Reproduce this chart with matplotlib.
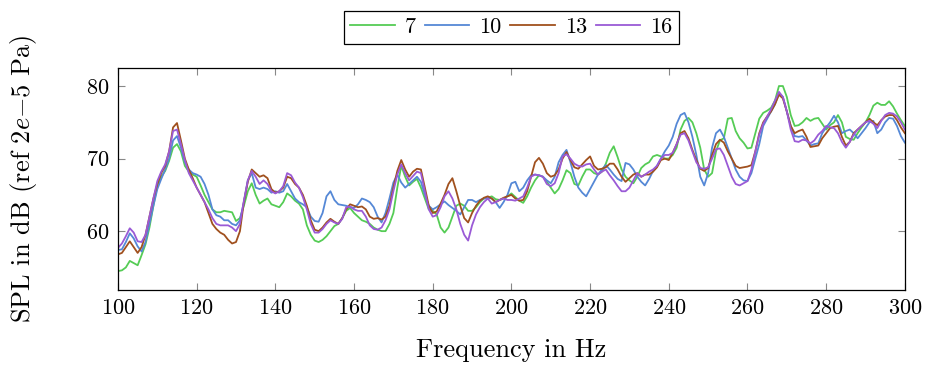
import numpy as np
import matplotlib
matplotlib.use('Agg')
import matplotlib.pyplot as plt

plt.rcParams['font.family'] = 'serif'
plt.rcParams['font.serif'] = ['cmr10', 'DejaVu Serif']
plt.rcParams['mathtext.fontset'] = 'cm'
plt.rcParams['axes.formatter.use_mathtext'] = True

freq = np.arange(100, 301)  # Hz, 1 Hz steps

spl_7 = [54.5, 54.6, 55.0, 55.9, 55.6, 55.3, 56.7, 58.2, 60.5, 63.5,
         66.3, 67.5, 68.3, 69.7, 71.5, 72.0, 71.0, 69.0, 68.2, 67.8,
         67.5, 66.3, 65.0, 64.0, 63.0, 62.6, 62.6, 62.8, 62.7, 62.6,
         61.4, 61.8, 63.5, 65.5, 66.6, 65.0, 63.8, 64.2, 64.5, 63.7,
         63.5, 63.3, 64.0, 65.2, 64.8, 64.2, 63.8, 63.0, 60.8, 59.5,
         58.7, 58.5, 58.8, 59.3, 60.0, 60.7, 61.0, 61.8, 62.8, 63.2,
         62.5, 62.0, 61.5, 61.3, 61.0, 60.5, 60.2, 60.0, 60.0, 61.0,
         62.5, 66.0, 69.0, 67.5, 66.3, 66.8, 67.2, 66.0, 64.5, 63.0,
         62.8, 62.3, 60.5, 59.8, 60.5, 62.0, 63.5, 63.8, 63.5, 62.8,
         62.8, 63.3, 64.0, 64.5, 64.6, 64.8, 64.4, 64.3, 64.5, 64.8,
         65.2, 64.7, 64.2, 63.9, 64.8, 66.0, 67.0, 67.7, 67.5, 66.8,
         66.0, 65.2, 65.8, 67.0, 68.4, 68.0, 66.5, 66.3, 67.5, 68.5,
         68.5, 68.0, 67.8, 68.2, 69.3, 70.8, 71.7, 70.2, 68.5, 67.5,
         67.0, 66.6, 67.5, 68.7, 69.2, 69.5, 70.3, 70.5, 70.3, 70.0,
         70.0, 70.5, 71.5, 74.0, 75.2, 75.6, 75.0, 73.5, 71.5, 68.5,
         67.5, 68.0, 71.0, 72.5, 72.8, 75.5, 75.6, 73.8, 72.8, 72.2,
         71.4, 71.5, 73.5, 75.5, 76.3, 76.6, 77.0, 78.0, 80.0, 80.0,
         78.5, 76.0, 74.5, 74.6, 75.0, 75.6, 75.2, 75.5, 75.6, 74.8,
         74.0, 74.6, 75.0, 76.0, 75.0, 73.0, 72.7, 72.6, 73.5, 74.3,
         75.0, 76.0, 77.3, 77.7, 77.4, 77.4, 77.9, 77.2, 76.2, 75.3,
         74.5]

spl_10 = [57.4, 57.5, 58.5, 59.7, 59.0, 57.9, 57.2, 58.5, 61.0, 63.5,
          65.8, 67.2, 68.5, 70.0, 72.5, 73.1, 71.5, 69.5, 68.5, 68.0,
          67.8, 67.5, 66.5, 65.0, 63.0, 62.2, 62.0, 61.5, 61.5, 61.0,
          60.8, 61.5, 64.0, 67.0, 68.0, 66.0, 65.8, 66.0, 65.8, 65.3,
          65.5, 65.3, 65.5, 66.5, 65.5, 64.5, 64.0, 63.7, 63.3, 62.0,
          61.4, 61.3, 62.5, 64.8, 65.5, 64.3, 63.7, 63.6, 63.5, 63.3,
          63.2, 63.7, 64.5, 64.3, 64.0, 63.3, 62.0, 61.2, 62.5, 64.5,
          66.7, 67.8, 66.7, 66.0, 66.5, 67.0, 67.5, 66.8, 65.0, 63.5,
          63.0, 63.3, 63.7, 64.1, 63.6, 63.2, 62.8, 62.3, 63.3, 64.3,
          64.3, 64.0, 64.3, 64.5, 64.6, 64.5, 64.0, 63.2, 64.0, 65.0,
          66.6, 66.8, 65.5, 66.0, 67.0, 67.7, 67.8, 67.7, 67.5, 67.0,
          66.6, 67.5, 69.5, 70.5, 71.2, 69.5, 67.5, 66.0, 65.3, 64.8,
          65.8, 66.8, 67.8, 68.5, 69.1, 68.5, 67.8, 67.2, 66.9, 69.4,
          69.2, 68.5, 67.5, 66.8, 66.3, 67.2, 68.3, 69.0, 70.0, 71.0,
          71.8, 73.0, 74.8, 76.0, 76.3, 75.0, 73.0, 70.5, 67.5, 66.3,
          68.0, 71.5, 73.5, 74.0, 73.0, 71.5, 70.0, 68.5, 67.5, 67.0,
          66.9, 68.0, 70.0, 72.0, 74.5, 75.5, 76.5, 77.5, 79.0, 78.5,
          76.5, 74.5, 73.1, 73.0, 73.1, 72.5, 71.8, 72.0, 72.1, 73.5,
          74.3, 75.0, 75.9, 75.0, 73.5, 73.8, 74.0, 73.5, 72.8, 73.5,
          74.2, 75.0, 75.2, 73.5, 74.0, 75.0, 75.6, 75.5, 74.5, 73.1,
          72.2]

spl_13 = [56.8, 57.0, 57.8, 58.6, 57.8, 57.0, 57.8, 59.5, 62.0, 64.5,
          66.5, 68.0, 69.0, 71.0, 74.3, 74.9, 72.5, 70.0, 68.5, 67.3,
          66.0, 65.0, 64.0, 62.5, 61.0, 60.3, 59.8, 59.5, 58.8, 58.3,
          58.5, 60.0, 64.0, 66.8, 68.5, 68.0, 67.5, 67.7, 67.3, 65.8,
          65.3, 65.5, 66.0, 67.5, 67.3, 66.5, 66.0, 65.0, 63.5, 61.5,
          60.2, 60.0, 60.5, 61.2, 61.7, 61.3, 61.0, 61.8, 63.0, 63.7,
          63.5, 63.3, 63.4, 63.0, 62.0, 61.7, 61.8, 61.6, 62.0, 63.5,
          66.0, 68.3, 69.8, 68.5, 67.5, 68.2, 68.6, 68.5, 66.0, 63.5,
          62.5, 62.7, 63.8, 65.0, 66.5, 67.3, 65.5, 63.5, 61.8, 61.2,
          62.5, 63.5, 64.2, 64.6, 64.8, 64.5, 64.0, 64.3, 64.6, 64.8,
          65.0, 64.5, 64.2, 64.3, 65.5, 67.5, 69.5, 70.1, 69.3, 68.0,
          67.5, 67.7, 68.5, 70.0, 70.9, 69.8, 68.8, 68.6, 69.2, 69.8,
          70.3, 69.0, 68.5, 68.6, 68.8, 69.3, 69.3, 68.5, 67.5, 66.8,
          67.3, 67.8, 68.0, 67.5, 67.8, 67.8, 68.2, 68.8, 69.8, 70.0,
          69.8, 70.8, 72.0, 73.5, 73.8, 72.8, 71.2, 69.8, 68.6, 68.3,
          68.7, 70.5, 72.0, 72.6, 72.2, 71.0, 70.0, 69.0, 68.7, 68.8,
          68.9, 69.1, 71.0, 73.5, 75.0, 75.8, 76.5, 77.5, 78.8, 78.3,
          76.5, 74.5, 73.5, 73.8, 74.0, 73.0, 71.6, 71.7, 71.8, 72.8,
          73.5, 74.2, 74.4, 74.5, 73.0, 71.8, 72.3, 73.5, 74.0, 74.5,
          75.0, 75.5, 75.0, 74.6, 75.3, 75.8, 76.0, 76.0, 75.3, 74.3,
          73.5]

spl_16 = [57.7, 58.3, 59.3, 60.4, 59.8, 58.6, 58.5, 59.5, 62.0, 64.5,
          66.9, 68.2, 69.2, 71.0, 73.8, 74.0, 72.0, 69.8, 68.0, 67.0,
          66.0, 65.0, 64.0, 63.0, 61.8, 61.0, 60.8, 60.8, 60.8, 60.5,
          60.0, 61.0, 64.2, 67.0, 68.3, 67.5, 66.5, 67.0, 66.5, 65.5,
          65.2, 65.5, 66.2, 68.0, 67.7, 66.7, 66.0, 64.7, 63.0, 61.0,
          59.8, 59.8, 60.3, 61.0, 61.5, 61.2, 61.0, 61.7, 63.3, 63.4,
          63.0, 62.8, 62.8, 62.0, 60.8, 60.3, 60.2, 60.5, 61.5, 63.0,
          65.5, 67.8, 69.2, 68.0, 67.0, 67.6, 68.2, 68.0, 65.5, 63.0,
          62.0, 62.2, 63.3, 64.8, 65.5, 64.5, 63.0, 61.0, 59.5, 58.7,
          60.8, 62.3, 63.3, 64.0, 64.5, 63.8, 64.0, 64.3, 64.5, 64.3,
          64.3, 64.2, 64.5, 64.8, 66.0, 67.5, 67.8, 67.7, 67.5, 66.5,
          66.2, 66.6, 68.0, 70.3, 70.6, 70.0, 69.3, 69.0, 68.9, 69.2,
          69.3, 68.5, 67.8, 68.2, 68.5, 67.7, 67.0, 66.2, 65.5, 65.5,
          66.0, 67.0, 68.0, 67.5, 67.8, 68.2, 68.5, 69.0, 70.0, 70.5,
          70.5, 70.8, 72.0, 73.3, 73.5, 72.5, 71.0, 69.5, 68.7, 68.6,
          68.8, 70.0, 71.3, 71.4, 70.5, 69.0, 67.5, 66.5, 66.3, 66.6,
          66.9, 68.5, 71.0, 73.3, 74.8, 75.8, 76.8, 78.0, 79.2, 78.5,
          76.5, 74.0, 72.4, 72.3, 72.6, 72.5, 72.1, 72.5, 73.3, 73.8,
          74.5, 74.3, 74.2, 73.5, 72.3, 71.5, 72.3, 73.3, 74.0, 74.5,
          75.0, 75.2, 74.8, 74.2, 75.2, 76.0, 76.3, 76.2, 75.8, 75.0,
          74.0]

labels = ['7', '10', '13', '16']
colors = ['#55cc55', '#5588d6', '#a0501e', '#9a5ad6']

fig = plt.figure(figsize=(9.29, 3.67), dpi=100)
ax = fig.add_axes([0.127, 0.210, 0.847, 0.605])

for y, lab, c in zip([spl_7, spl_10, spl_13, spl_16], labels, colors):
    ax.plot(freq, y, color=c, lw=1.3, label=lab)

ax.set_xlim(100, 300)
ax.set_ylim(51.9, 82.5)
ax.set_xticks(np.arange(100, 301, 20))
ax.set_yticks([60, 70, 80])
ax.tick_params(direction='in', top=True, right=True, length=5,
               color='#888888', labelsize=16, pad=6)
for s in ax.spines.values():
    s.set_linewidth(0.9)

ax.set_xlabel('Frequency in Hz', fontsize=19, labelpad=15)
ax.set_ylabel(r'SPL in dB (ref $2e{-}5$ Pa)', fontsize=19)
ax.yaxis.set_label_coords(-0.101, 0.5)

leg = ax.legend(loc='lower center', bbox_to_anchor=(0.5, 1.108), ncol=4,
                fontsize=16, frameon=True, fancybox=False, edgecolor='black',
                framealpha=1, borderaxespad=0, handlelength=2.0,
                handletextpad=0.45, columnspacing=0.4, borderpad=0.3)
leg.get_frame().set_linewidth(0.9)

fig.savefig('out.png', dpi=100)
